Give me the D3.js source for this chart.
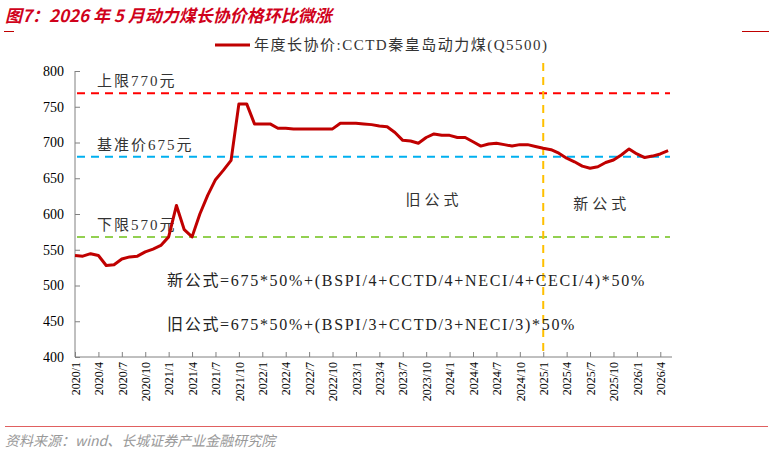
<!DOCTYPE html>
<html><head><meta charset="utf-8">
<script src="https://cdn.jsdelivr.net/npm/d3@7"></script>
<style>
body{margin:0;background:#fff}
svg text{font-family:"Liberation Serif","Noto Sans CJK SC",serif}
</style></head>
<body><figure style="margin:0"></figure>
<script>
// monthly, 2020/1 .. 2026/5
const startYear = 2020, startMonth = 1
const price = [542,541,544.5,542,528,529,537,540,541,547,551,556,
  568,612,578,568,600,626,648,661,675,754,754,726,
  726,726,720,720,719,719,719,719,719,719,727,727,
  727,726,725,723,722,714,703,702,699,707,712,710,
  710,707,707,701,695,698,699,697,695,697,697,694.5,
  692,690,685,678,673,667,664,666,672,675.5,682.5,691,
  684,679,681,684,688.5]
const months = price.map((d, i) => {
  const m = startMonth - 1 + i
  return (startYear + Math.floor(m / 12)) + '/' + (m % 12 + 1)
})
const yTicks = [400,450,500,550,600,650,700,750,800]
const refLines = [
  {val: 769, color: '#ff0000', label: '上限770元'},
  {val: 680, color: '#00b0f0', label: '基准价675元'},
  {val: 568, color: '#92d050', label: '下限570元'}
]
const switchIdx = 60   // 2025/1
const seriesName = '年度长协价:CCTD秦皇岛动力煤(Q5500)'

const W = 773, H = 456
const margin = {left: 75, right: 101, top: 71, bottom: 99}
const width = W - margin.left - margin.right,
      height = H - margin.top - margin.bottom

const svg = d3.select('figure').append('svg').attr('width', W).attr('height', H)

// title + header rules
svg.append('text').attr('x', 5).attr('y', 22)
    .attr('fill', '#d0021b').attr('font-size', 17).attr('font-weight', 'bold').attr('font-style', 'italic')
    .style('font-family', '"Noto Sans CJK SC",sans-serif')
    .text('图7：2026 年 5 月动力煤长协价格环比微涨')
svg.append('line').attr('x1', 4).attr('x2', 14).attr('y1', 31.5).attr('y2', 31.5).attr('stroke', '#c00000')
svg.append('line').attr('x1', 742).attr('x2', 769).attr('y1', 31.5).attr('y2', 31.5).attr('stroke', '#c00000')

const x = d3.scaleLinear().domain([0, 76.5]).range([0, width])
const y = d3.scaleLinear().domain([400, 800]).range([height, 0])

const g = svg.append('g').attr('transform', `translate(${margin.left},${margin.top})`)

// legend
svg.append('line').attr('x1', 215).attr('x2', 250).attr('y1', 45).attr('y2', 45)
    .attr('stroke', '#c00000').attr('stroke-width', 3)
svg.append('text').attr('x', 254).attr('y', 50).attr('font-size', 15).attr('letter-spacing', 1.5)
    .attr('fill', '#333').text(seriesName)

// axes
g.append('g').attr('transform', `translate(0,${height})`)
    .call(d3.axisBottom(x).tickValues(d3.range(0, price.length, 3)).tickSize(-5).tickFormat(i => months[i]))
    .call(a => a.selectAll('.tick line').attr('stroke', '#808080'))
    .call(a => a.select('.domain').attr('stroke', '#808080').attr('d', `M0,0H${width}`))
    .selectAll('text')
      .attr('font-size', 12).attr('fill', '#000')
      .attr('transform', 'rotate(-90)').attr('text-anchor', 'end')
      .attr('x', -5).attr('y', 0).attr('dy', '0.35em')

g.append('g')
    .call(d3.axisLeft(y).tickValues(yTicks).tickSize(5).tickPadding(6))
    .call(a => a.selectAll('.tick line').attr('stroke', '#808080').attr('x2', 5))
    .call(a => a.select('.domain').attr('stroke', '#808080').attr('d', `M0,0V${height}`))
    .selectAll('text').attr('font-size', 14).attr('fill', '#000')

// reference lines
refLines.forEach(r => {
  g.append('line').attr('x1', 2).attr('x2', width - 2).attr('y1', y(r.val)).attr('y2', y(r.val))
      .attr('stroke', r.color).attr('stroke-width', 2).attr('stroke-dasharray', '8,6')
  g.append('text').attr('x', 22).attr('y', y(r.val) - 7).attr('font-size', 15).attr('letter-spacing', 2)
      .attr('fill', '#333').text(r.label)
})

// formula switch
g.append('line').attr('x1', x(switchIdx)).attr('x2', x(switchIdx)).attr('y1', -8).attr('y2', height)
    .attr('stroke', '#ffc000').attr('stroke-width', 2).attr('stroke-dasharray', '8,6')

g.append('text').attr('x', x(46)).attr('y', y(612)).attr('font-size', 15).attr('letter-spacing', 4)
    .attr('fill', '#333').attr('text-anchor', 'middle').text('旧公式')
g.append('text').attr('x', x(67.5)).attr('y', y(607)).attr('font-size', 15).attr('letter-spacing', 4)
    .attr('fill', '#333').attr('text-anchor', 'middle').text('新公式')
g.append('text').attr('x', 92).attr('y', y(499)).attr('font-size', 16).attr('letter-spacing', 1.7).attr('fill', '#222')
    .text('新公式=675*50%+(BSPI/4+CCTD/4+NECI/4+CECI/4)*50%')
g.append('text').attr('x', 92).attr('y', y(438)).attr('font-size', 16).attr('letter-spacing', 1.7).attr('fill', '#222')
    .text('旧公式=675*50%+(BSPI/3+CCTD/3+NECI/3)*50%')

// series
g.append('path').datum(price)
    .attr('fill', 'none').attr('stroke', '#c00000').attr('stroke-width', 3).attr('stroke-linejoin', 'round')
    .attr('d', d3.line().x((d, i) => x(i)).y(d => y(d)))

// footer
svg.append('line').attr('x1', 5).attr('x2', 768).attr('y1', 426.5).attr('y2', 426.5).attr('stroke', '#e06060')
svg.append('text').attr('x', 5).attr('y', 446).attr('font-size', 14).attr('fill', '#999')
    .attr('font-style', 'italic').style('font-family', '"Noto Sans CJK SC",sans-serif')
    .text('资料来源：wind、长城证券产业金融研究院')
</script></body></html>
